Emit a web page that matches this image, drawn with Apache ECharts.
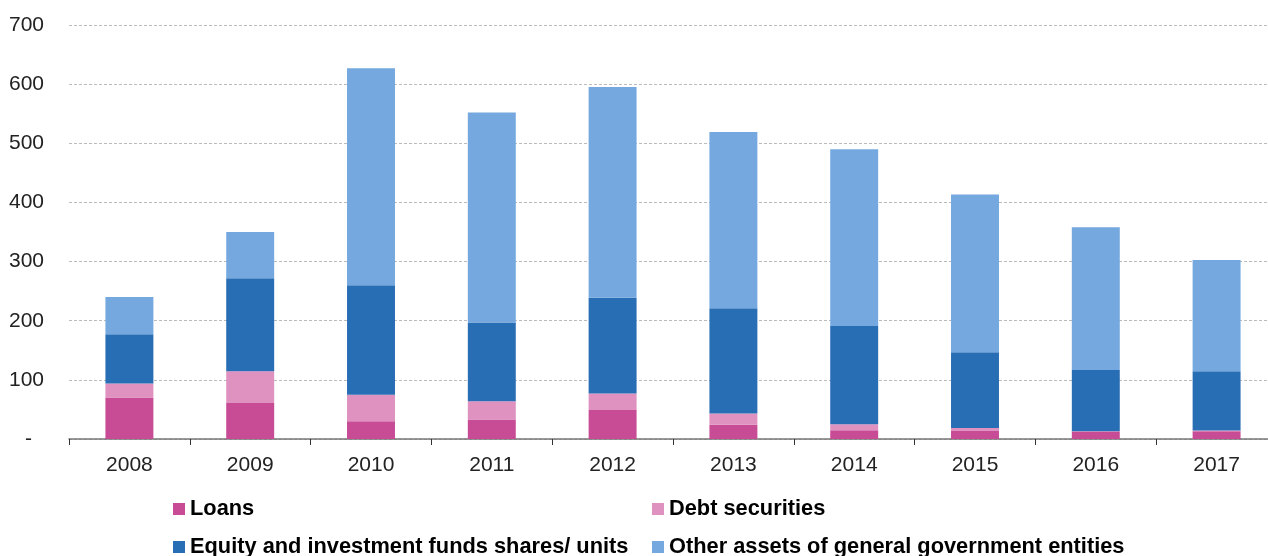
<!DOCTYPE html>
<html>
<head>
<meta charset="utf-8">
<script src="https://cdn.jsdelivr.net/npm/echarts@6/dist/echarts.min.js"></script>
<style>html,body{margin:0;padding:0;background:#fff;overflow:hidden;}#c{width:1268px;height:556px;}</style>
</head>
<body>
<div id="c"></div>
<script>
var categories = ['2008','2009','2010','2011','2012','2013','2014','2015','2016','2017'];
var loans = [70, 61, 30, 33, 49, 24, 15, 13.5, 12.5, 13];
var debtSecurities = [24, 53.5, 45, 31, 28, 19, 10, 5, 0.7, 1.5];
var equity = [83, 157.5, 185, 133, 162, 178, 166, 128, 103.5, 100];
var otherAssets = [63, 78, 367, 355, 356, 298, 299, 267, 241.5, 188];
var seriesNames = ['Loans', 'Debt securities', 'Equity and investment funds shares/ units', 'Other assets of general government entities'];
var colors = ['#C84B96', '#DF91C0', '#286EB4', '#74A8DF'];

var chart = echarts.init(document.getElementById('c'));
var font = 'Liberation Sans, Arial, sans-serif';
function mkSeries(i, data) {
  return {
    name: seriesNames[i], type: 'bar', stack: 'total', data: data,
    barWidth: '39.7%',
    itemStyle: { color: colors[i] },
    emphasis: { disabled: true }
  };
}
function mkLegend(i, left, top) {
  return {
    data: [seriesNames[i]], left: left, top: top, orient: 'horizontal',
    icon: 'rect', itemWidth: 12, itemHeight: 12, itemGap: 4, padding: 0,
    textStyle: { fontFamily: font, fontSize: 21.8, fontWeight: 'bold', color: '#000', padding: [0,0,0,0] },
    selectedMode: false
  };
}
chart.setOption({
  animation: false,
  grid: { left: 69, width: 1208, top: 25, bottom: 117, containLabel: false, outerBoundsMode: 'none' },
  legend: [
    mkLegend(0, 173, 498),
    mkLegend(1, 652, 498),
    mkLegend(2, 173, 536),
    mkLegend(3, 652, 536)
  ],
  xAxis: {
    type: 'category', data: categories,
    axisLine: { show: true, lineStyle: { color: '#777', width: 1.5 } },
    axisTick: { show: true, length: 6, lineStyle: { color: '#333' } },
    axisLabel: { fontFamily: font, fontSize: 21, color: '#222', margin: 16 }
  },
  yAxis: {
    type: 'value', min: 0, max: 700, interval: 100,
    axisLine: { show: false }, axisTick: { show: false },
    splitLine: { show: true, lineStyle: { color: '#bbb', type: [3, 2], width: 1 } },
    axisLabel: {
      fontFamily: font, fontSize: 21, color: '#222', margin: 25,
      formatter: function (v) { return v === 0 ? '{d|-}' : String(v); },
      rich: { d: { fontFamily: font, fontSize: 21, color: '#222', padding: [0, 12, 0, 0] } }
    }
  },
  series: [
    mkSeries(0, loans),
    mkSeries(1, debtSecurities),
    mkSeries(2, equity),
    mkSeries(3, otherAssets)
  ]
});
</script>
</body>
</html>
